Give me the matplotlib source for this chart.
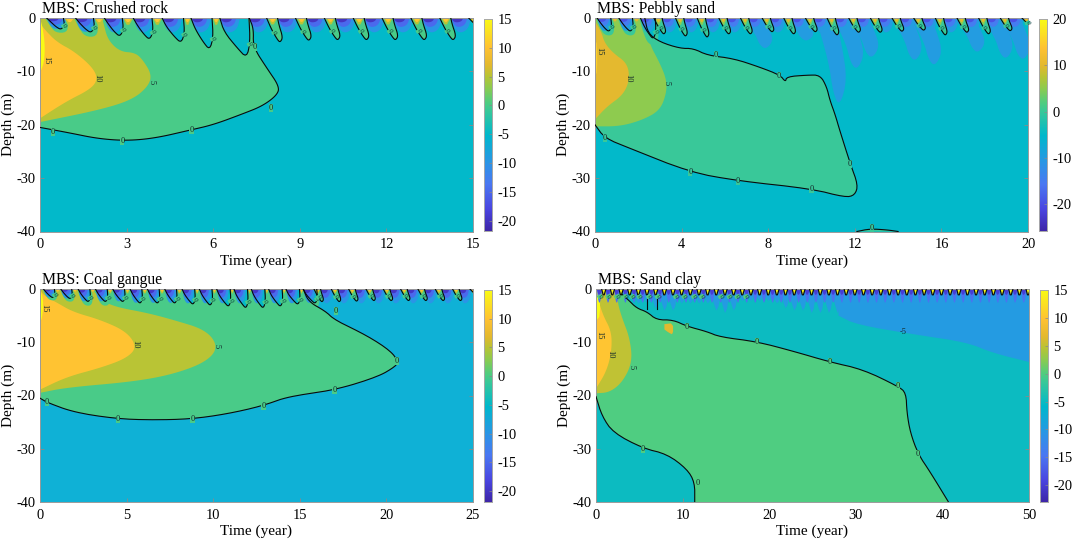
import numpy as np
import matplotlib
matplotlib.use('Agg')
import matplotlib.pyplot as plt
from matplotlib.colors import LinearSegmentedColormap, Normalize

plt.rcParams['font.family'] = ['Liberation Serif', 'DejaVu Serif']
plt.rcParams['font.size'] = 10.4
plt.rcParams['axes.unicode_minus'] = False

W, H = 1072, 541

# ---- colour scale
cmap_stops = [(0.0, '#3E26A8'), (0.1, '#4A45E0'), (0.22, '#4A78F2'), (0.32, '#2B95E6'),
              (0.45, '#00B8CC'), (0.563, '#38C89A'), (0.605, '#50CD80'), (0.672, '#8CCB50'),
              (0.728, '#B8C435'), (0.78, '#E3B92F'), (0.864, '#FFC233'), (1.0, '#F9FB15')]
parula = LinearSegmentedColormap.from_list('parula_like', cmap_stops)

# ---- Crushed rock
crushed_zero = [(0, -20.5), (1, -21.5), (2, -22.6), (3, -23), (4, -22.5), (5.2, -21), (6, -20),
                (7, -18), (7.7, -16.5), (8.2, -14.5), (8.3, -12.9), (7.86, -9.4), (7.38, -5.4),
                (7.4, -2), (7.25, 0)]
crushed_five = [(0, -19.5), (2.08, -17.2), (3.2, -15.3), (3.75, -12.8), (3.87, -10.6), (3.57, -7.9),
                (3.3, -6.5), (2.77, -6.3), (2.35, -4.1), (2.2, -1), (2.15, 0)]
crushed_ten = [(0, -18.8), (0.92, -15.6), (1.73, -13.4), (2.0, -11.6), (1.85, -9.4), (1.2, -6.3),
               (0.58, -4.5), (0.17, -2.2), (0, -1)]
crushed_top = [(0, 0), (0.1, -2), (0.17, -5), (0.15, -8), (0.05, -9.7), (0, -10)]
crushed_lobe_depth = [2.2, 2.8, 3.5, 4.1, 4.7, 6, 7.5]
crushed_lobe_lean = [0.5, 0.54, 0.54, 0.57, 0.66, 0.65, 0.93]
crushed_finger_year = [8, 9, 10, 11, 12, 13, 14, 15]
crushed_finger_depth = [4.5, 4.2, 4.1, 4.1, 4.1, 4.1, 4.1, 2.0]
crushed_label_t = [0.2, 2.0, 3.85, 8.0, 5.25, 2.85, 0.45, 7.45]
crushed_label_d = [-8, -11.2, -12, -16.8, -20.9, -23, -21.3, -5.5]
crushed_label_s = ['15', '10', '5', '0', '0', '0', '0', '0']

# ---- Pebbly sand
pebbly_zero = [(0, -20), (0.45, -22.5), (1.6, -24.4), (4.4, -28.9), (6.6, -30.5), (10, -32), (11.55, -33.6),
               (12, -33.2), (12.15, -31.3), (11.8, -27.4), (11.3, -21), (11.1, -18.2), (10.85, -15.4),
               (10.7, -12.9), (10.4, -10.7), (9.8, -10.7), (8.85, -11), (8.8, -12), (8.55, -10.7),
               (7.6, -9.2), (6.4, -7.6), (5.2, -7), (4.54, -5.7), (3.93, -5.7), (3.0, -4.5), (2.45, -2.9), (2.3, 0)]
pebbly_five = [(0, -20.3), (1.15, -20.3), (2.2, -19.1), (3, -17.3), (3.3, -14.1), (3.3, -11.5), (3, -8.5),
               (2.5, -4.7), (2.4, -1.7), (2.3, 0)]
pebbly_ten = [(0, -19), (0.55, -16.6), (1.3, -14.4), (1.6, -11.6), (1.5, -8.5), (0.85, -6.6), (0.45, -4.7),
              (0.3, -2.7), (0, -0.6)]
pebbly_top = [(0, -4), (0.1, -5), (0.1, -10), (0, -11)]
pebbly_bump = [(12.1, -40), (12.7, -39.5), (13.5, -39.7), (14, -40)]
pebbly_lobe_depth = [2.6, 2.6, 4.0]
pebbly_lobe_lean = [0.55, 0.55, 0.6]
pebbly_finger_year = [3, 4, 5, 6, 7, 8, 9, 10, 11, 12, 13, 14, 15, 16, 17, 18, 19, 20]
pebbly_finger_depth = [3, 3.4, 3.6, 3, 3, 2.6, 3, 2.6, 3.2, 2.7, 2.7, 2.5, 2.3, 3.2, 2.7, 3, 2.4, 1.5]
pebbly_wedge_t = [7.9, 9.8, 11.3, 12.1, 12.8, 14.8, 15.7, 17.7, 19, 19.8]
pebbly_wedge_d = [-5.9, -4.4, -16.6, -9.8, -7.6, -8.2, -9.1, -6.6, -7.8, -8]
pebbly_label_t = [0.2, 1.55, 3.3, 5.6, 8.5, 11.75, 10, 6.6, 4.4, 0.45, 12.8]
pebbly_label_d = [-6.2, -11.3, -12.2, -6.9, -10.8, -27.4, -32, -30.5, -28.9, -22.5, -39.4]
pebbly_label_s = ['15', '10', '5', '0', '0', '0', '0', '0', '0', '0', '0']

# ---- Coal gangue
coal_zero = [(0, -20.5), (0.4, -21.3), (2, -23.2), (4.5, -24.4), (6.6, -24.6), (8.8, -24.4), (10.9, -23.4),
             (12.9, -21.9), (14.3, -20.2), (17, -19), (19.5, -16.5), (20.5, -14.6), (20.7, -13.6), (20.2, -11.5),
             (18.8, -8.6), (17, -5.8), (16.5, -4.2), (15.5, -2.4), (15.2, 0)]
coal_five = [(0, -19.5), (1.55, -18.5), (5.4, -17.4), (7.7, -16), (9.6, -13.7), (10.3, -10.9), (9.6, -7.7),
             (7.7, -5.8), (6.2, -4.5), (4.4, -3.4), (3.6, -2.2), (3, 0)]
coal_ten = [(0, -18.9), (1.55, -16.5), (3.5, -14.8), (5, -13), (5.6, -10.9), (5, -8), (3.5, -5.8),
            (1.9, -4.3), (1, -2.6), (0.2, -1.2), (0, 0)]
coal_top = [(0, 0), (0.2, -2), (0.15, -5), (0, -6.5)]
coal_lobe_depth = [1.7, 1.9, 2.5, 2.5, 2.5, 2.8, 2.8, 2.8, 3, 3.2, 3.4, 3.7, 3.7, 3.4, 3, 2.8]
coal_lobe_lean = [0.55, 0.55, 0.6, 0.6, 0.6, 0.6, 0.6, 0.6, 0.65, 0.65, 0.7, 0.7, 0.7, 0.7, 0.7, 0.7]
coal_finger_year = [16, 17, 18, 19, 20, 21, 22, 23, 24, 25]
coal_finger_depth = [2.4, 2.4, 2.3, 2.2, 2.2, 2.2, 2.2, 2.2, 2.2, 1.2]
coal_label_t = [0.25, 5.5, 10.2, 0.4, 4.5, 8.8, 12.9, 17, 17.1, 20.6]
coal_label_d = [-3.6, -10.3, -10.7, -21.3, -24.5, -24.5, -21.9, -19, -4.2, -13.6]
coal_label_s = ['15', '10', '5', '0', '0', '0', '0', '0', '0', '0']

# ---- Sand clay
clay_upper = [(3.0, -1), (3.7, -2), (4.7, -3.6), (5.9, -4.3), (7, -5.8), (8.9, -5.8), (10.5, -7), (12.8, -8),
              (14.3, -9), (18.6, -9.9), (22.8, -11.7), (27, -13.7), (30.8, -15.1), (34.9, -18.3), (35.8, -19.5),
              (35.9, -23.2), (36.3, -27), (37.2, -31), (38.6, -34.4), (40.7, -40)]
clay_lower = [(11.4, -40), (11.4, -36.3), (10.5, -33.8), (8.2, -31), (5.4, -29.9), (2, -27), (0.7, -23.9), (0, -20.2)]
clay_five = [(0, -19.6), (1.6, -19.4), (3.1, -17.4), (4.2, -13.7), (3.9, -9.2), (3, -5.4), (2.5, -2.6), (2.4, 0)]
clay_ten = [(0, -18.7), (1.2, -15.5), (1.8, -11.8), (1.8, -8), (0.8, -4.9), (0.2, -1.7), (0, 0)]
clay_top = [(0, 0), (0.4, 0), (0.5, -5), (0, -6)]
clay_minus5 = [(28, -5), (30.1, -6.7), (37, -8.6), (42.8, -10), (45.8, -12), (50, -13.7)]
clay_patch = [(7.9, -6.6), (8.9, -6.4), (8.9, -8.6), (8.4, -8.2), (7.9, -7.6)]
clay_wedge_year = list(range(5, 30))
clay_wedge_depth = [3, 3, 4, 4.5, 4.5, 3, 3, 3, 3, 4.5, 5, 4.5, 2.5, 2.5, 2.5, 2.5, 3, 4, 4.5, 4.5, 5, 5, 5, 5, 5]
clay_stroke_t = [5.9, 7.1]
clay_label_t = [0.45, 1.4, 2.4, 3.3, 4.2, 5.0, 6.1, 7.1, 9.2, 10.2, 11.3, 12.2, 14.4, 15.4, 16.3, 17.3]
clay_label_t2 = [0.4, 1.7, 4.1, 10.5, 18.6, 27, 34.9, 5.4, 11.7, 37.2, 35.5]
clay_label_d2 = [-8.7, -12.3, -14.6, -7.2, -10, -13.7, -18.2, -30, -36.5, -31, -8]
clay_label_s2 = ['15', '10', '5', '0', '0', '0', '0', '0', '0', '0', '-5']


def smooth(points, rounds=3):
    # corner cutting so hand read outlines do not look polygonal
    pts = np.asarray(points, dtype=float)
    for _ in range(rounds):
        q = 0.75 * pts[:-1] + 0.25 * pts[1:]
        r = 0.25 * pts[:-1] + 0.75 * pts[1:]
        mid = np.empty((q.shape[0] * 2, 2))
        mid[0::2] = q
        mid[1::2] = r
        pts = np.vstack([pts[0], mid, pts[-1]])
    return pts


class Panel:
    def __init__(self, box, cbox, tmax, xticks, cmin, cmax, cticks, title, base=None):
        x0, y0, x1, y1 = box
        self.ax = fig.add_axes([x0 / W, 1 - y1 / H, (x1 - x0) / W, (y1 - y0) / H])
        self.norm = Normalize(cmin, cmax)
        ax = self.ax
        ax.set_xlim(0, tmax)
        ax.set_ylim(-40, 0)
        ax.set_xticks(xticks)
        ax.set_yticks([0, -10, -20, -30, -40])
        ax.tick_params(direction='in', length=3, width=0.6, color='#8a8a8a', top=False, right=True, labelsize=10.4)
        ax.tick_params(axis='x', pad=5)
        ax.tick_params(axis='y', pad=3)
        for sp in ax.spines.values():
            sp.set_color('#9a9a9a')
            sp.set_linewidth(0.7)
        ax.set_xlabel('Time (year)', labelpad=2, fontsize=11)
        ax.set_ylabel('Depth (m)', fontsize=11)
        ax.yaxis.set_label_coords(-25 / 433, 0.5)
        ax.text(0.005, 1.004, title, transform=ax.transAxes, ha='left', va='bottom', fontsize=11.3)
        ax.set_facecolor(base if base else self.col(-5))
        self.tmax = tmax
        cx0, cy0, cx1, cy1 = cbox
        cax = fig.add_axes([cx0 / W, 1 - cy1 / H, (cx1 - cx0) / W, (cy1 - cy0) / H])
        cax.imshow(np.linspace(cmax, cmin, 256)[:, None], aspect='auto', cmap=parula, norm=self.norm,
                   extent=[0, 1, cmin, cmax])
        cax.set_xticks([])
        cax.yaxis.tick_right()
        cax.set_yticks(cticks)
        cax.tick_params(direction='in', length=2, width=0.5, color='#8a8a8a', pad=4, labelsize=10.4)
        for sp in cax.spines.values():
            sp.set_color('#a8a8a8')
            sp.set_linewidth(0.7)

    def col(self, level):
        return parula(self.norm(level))

    def band(self, pts, level, rounds=3, corners=None):
        # corners are appended after smoothing so the axes edges stay square
        p = smooth(pts, rounds)
        if corners:
            p = np.vstack([p, corners])
        self.ax.fill(p[:, 0], p[:, 1], color=self.col(level), lw=0, zorder=2)

    def line(self, pts, rounds=3, z=6):
        p = smooth(pts, rounds)
        self.ax.plot(p[:, 0], p[:, 1], color='#0a0a0a', lw=0.8, zorder=z)

    def blues(self, s, b, width=0.7):
        # three nested cold bands hanging from the surface
        for lev, f, w in [(-10, 1.0, 1.0), (-15, 0.62, 0.82), (-20, 0.3, 0.62)]:
            pts = [(s + 0.03, 0), (s + 0.1 * w, -0.6 * b * f), (s + 0.3 * w, -b * f), (s + width * 0.85 * w, -0.75 * b * f),
                   (s + width * w, 0)]
            self.band(pts, lev, 2)

    def caps(self, a, c, d):
        self.band([(a, 0), ((a + c) / 2, -d), (c, 0)], 5, 1)
        self.band([(a + (c - a) * 0.12, 0), ((a + c) / 2, -d * 0.6), (c - (c - a) * 0.12, 0)], 10, 1)
        self.band([(a + (c - a) * 0.3, 0), ((a + c) / 2, -d * 0.2), (c - (c - a) * 0.3, 0)], 15, 1)

    def lobes(self, years, depths, leans, offset=0.23, cap=1.7):
        for k, d, u in zip(years, depths, leans):
            s = k + offset
            halo = [(s - 0.05, 0), (s + 0.1, -0.6 * d), (s + u * 0.6, -1.25 * d), (s + u + 0.2, -1.25 * d),
                    (s + u + 0.25, -0.5 * d), (s + u + 0.15, 0)]
            self.band(halo, 0, 2)
        for k, d, u in zip(years, depths, leans):
            s = k + offset
            outline = [(s, 0), (s + 0.15, -0.35 * d), (s + u * 0.65, -0.75 * d), (s + u, -d),
                       (s + u + 0.12, -0.6 * d), (s + u + 0.08, 0)]
            self.band(outline, -5, 2)
            self.blues(s, min(d, 2.9))
            self.line(outline, 2)
            self.caps(s + u + 0.1, s + 1.0, cap)
            self.zero_mark(s + u + 0.1, -0.65 * d)

    def fingers(self, years, depths, offset=0.23, cap=1.6):
        for k, f in zip(years, depths):
            s = k + offset
            finger = [(s - 0.38, 0), (s - 0.2, -0.5 * f), (s + 0.02, -0.95 * f), (s + 0.1, -f),
                      (s + 0.18, -0.8 * f), (s + 0.05, -0.3 * f), (s, 0)]
            self.band(finger, 0, 2)
            self.caps(s - 0.33, s - 0.01, cap)
            self.blues(s, 2.9)
            self.line(finger, 2)
            self.zero_mark(s - 0.12, -0.6 * f)

    def zero_mark(self, t, d):
        if t < self.tmax:
            self.ax.text(t, d, '0', fontsize=5, color='#062e34', rotation=-60, ha='center', va='center', zorder=7,
                         bbox=dict(fc=self.col(0), ec='none', pad=0))

    def labels(self, ts, ds, ss, rotation=-90):
        for t, d, s in zip(ts, ds, ss):
            lev = int(s)
            rot = rotation if lev > 0 else 0
            self.ax.text(t, d, s, fontsize=6, color='#142a2a', rotation=rot, ha='center', va='center', zorder=7,
                         bbox=dict(fc=self.col(lev), ec='none', pad=0) if lev == 0 else None)


fig = plt.figure(figsize=(W / 100, H / 100), dpi=100)
left_top = [(0, 0)]

# Crushed rock
p1 = Panel((40, 18, 473, 231.5), (484, 19, 492, 231), 15, [0, 3, 6, 9, 12, 15], -21.8, 15,
           [15, 10, 5, 0, -5, -10, -15, -20], 'MBS: Crushed rock')
p1.band(crushed_zero, 0, corners=left_top)
p1.band(crushed_five, 5, corners=left_top)
p1.band(crushed_ten, 10, corners=left_top)
p1.band(crushed_top, 15, 2)
p1.lobes(range(7), crushed_lobe_depth, crushed_lobe_lean)
p1.blues(7.23, 2.9)
p1.fingers(crushed_finger_year, crushed_finger_depth)
p1.line(crushed_zero)
p1.labels(crushed_label_t, crushed_label_d, crushed_label_s)

# Pebbly sand
p2 = Panel((595, 18, 1028, 231.5), (1039, 19, 1047, 231), 20, [0, 4, 8, 12, 16, 20], -25.8, 20,
           [20, 10, 0, -10, -20], 'MBS: Pebbly sand')
for tip, dep in zip(pebbly_wedge_t, pebbly_wedge_d):
    p2.band([(tip - 1.1, 0), (tip - 0.5, dep * 0.5), (tip - 0.3, dep * 0.85), (tip, dep), (tip + 0.35, dep * 0.7),
             (tip + 0.1, dep * 0.3), (tip - 0.2, 0)], -10, 2)
p2.band(pebbly_zero, 0, 2, corners=left_top)
p2.band(pebbly_five, 5, corners=left_top)
p2.band(pebbly_ten, 10, corners=left_top)
p2.band(pebbly_top, 15, 1)
p2.band(pebbly_bump, 0, 2)
p2.lobes(range(3), pebbly_lobe_depth, pebbly_lobe_lean, offset=0.1, cap=1.4)
p2.fingers(pebbly_finger_year, pebbly_finger_depth, offset=0.1, cap=1.7)
p2.line(pebbly_zero, 2)
p2.line(pebbly_bump, 2)
p2.labels(pebbly_label_t, pebbly_label_d, pebbly_label_s)

# Coal gangue
p3 = Panel((40, 289, 473, 502), (484, 290, 492, 502), 25, [0, 5, 10, 15, 20, 25], -21.9, 15,
           [15, 10, 5, 0, -5, -10, -15, -20], 'MBS: Coal gangue', base='#0FB1D6')
p3.band(coal_zero, 0, corners=left_top)
p3.band(coal_five, 5, corners=left_top)
p3.band(coal_ten, 10, corners=left_top)
p3.band(coal_top, 15, 2)
p3.lobes(range(16), coal_lobe_depth, coal_lobe_lean, offset=0.2, cap=1.1)
p3.fingers(coal_finger_year, coal_finger_depth, offset=0.2, cap=1.1)
p3.line(coal_zero)
p3.labels(coal_label_t, coal_label_d, coal_label_s)

# Sand clay
p4 = Panel((596, 289, 1029, 502), (1040, 290, 1048, 502), 50, [0, 10, 20, 30, 40, 50], -23, 15,
           [15, 10, 5, 0, -5, -10, -15, -20], 'MBS: Sand clay')
p4.band(clay_minus5, -10, 2, corners=[(50, 0), (28, 0)])
for yr, dep in zip(clay_wedge_year, clay_wedge_depth):
    p4.band([(yr - 0.9, 0), (yr - 0.4, -dep * 0.6), (yr, -dep), (yr + 0.5, 0)], -10, 1)
zero_edge = np.vstack([smooth(clay_upper, 2), [(40.7, -40), (11.4, -40)], smooth(clay_lower, 2), [(0, 0), (3, 0)]])
p4.ax.fill(zero_edge[:, 0], zero_edge[:, 1], color=p4.col(0), lw=0, zorder=2)
p4.band(clay_five, 5, corners=left_top)
p4.band(clay_ten, 10, corners=left_top)
p4.band(clay_top, 15, 1)
p4.band(clay_patch, 6.5, 1)
for k in range(50):
    s = k + 0.1
    p4.band([(s, 0), (s + 0.12, -1.8), (s + 0.3, -2.8), (s + 0.5, -1.6), (s + 0.62, 0)], -15, 1)
    p4.band([(s, 0), (s + 0.2, -1.2), (s + 0.45, -0.9), (s + 0.55, 0)], -20, 1)
    v = [(s + 0.55, 0), (s + 0.72, -1.1), (s + 0.85, -1.1), (s + 1.05, 0)]
    p4.band(v, 5, 0)
    p4.band([(s + 0.62, 0), (s + 0.78, -0.75), (s + 0.98, 0)], 15, 0)
    p4.line(v, 0)
for t in clay_label_t:
    p4.zero_mark(t, -1.4)
for t in clay_stroke_t:
    p4.ax.plot([t, t], [-1.8, -3.8], color='#0a0a0a', lw=0.8, zorder=6)
p4.line(clay_upper, 2)
p4.line(clay_lower, 2)
p4.labels(clay_label_t2, clay_label_d2, clay_label_s2)

fig.savefig('out.png', dpi=100)
